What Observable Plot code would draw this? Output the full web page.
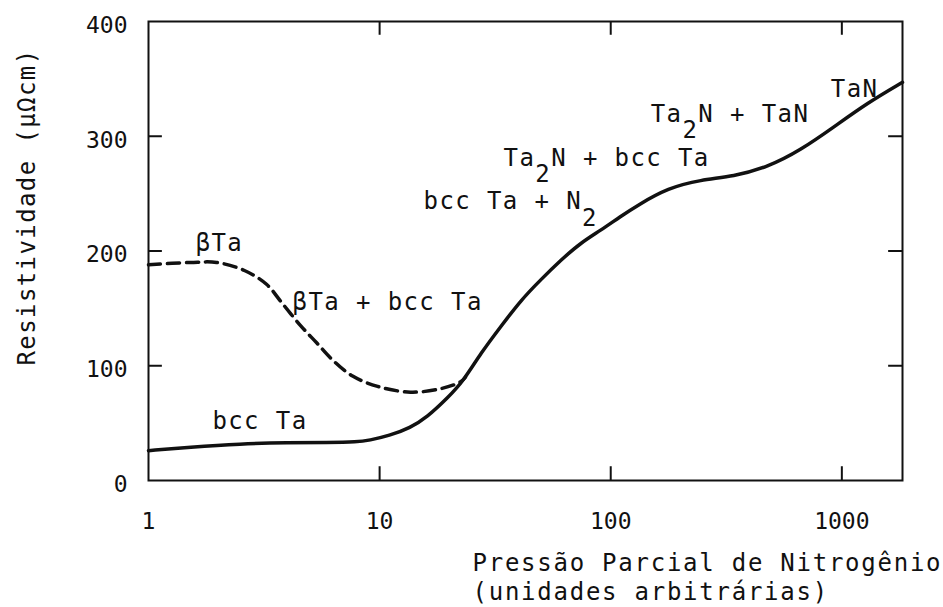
<!DOCTYPE html>
<html><head><meta charset="utf-8">
<script src="https://cdn.jsdelivr.net/npm/d3@7"></script>
<script src="https://cdn.jsdelivr.net/npm/@observablehq/plot@0.6"></script>
<style>
body{margin:0;background:#fff;}
#chart svg text{font-family:"DejaVu Sans Mono",monospace;}
g[aria-label="text"] text{letter-spacing:1.4px;}
g.xtitle text{letter-spacing:1.75px;}
</style></head><body><div id="chart"></div>
<script>
// bcc Ta (solid) curve
const bccX = [1, 1.5, 2.5, 4, 6, 8, 9, 11, 13.6, 16, 19.7, 23.1, 27.4, 33.4, 40.8, 49.8, 60.8, 74, 90.5, 110, 131, 177, 245, 340, 477, 665, 923, 1290, 1830];
const bccY = [26, 29, 32, 33, 33, 33.5, 35, 39, 46, 55, 72, 87, 111, 134, 157, 175, 192, 207, 218, 230, 240, 255, 262, 265, 273, 288, 308, 329, 347];
// beta Ta (dashed) curve
const betaX = [1, 1.52, 1.97, 2.6, 3.24, 3.77, 4.55, 5.34, 6.26, 7.64, 9.8, 13.6, 18.4, 22.4, 23.5];
const betaY = [188, 190, 190, 183, 171, 155, 135, 120, 105, 91, 82, 77, 80, 86, 90];
// axes
const xTicks = [1, 10, 100, 1000];
const yTicks = [0, 100, 200, 300, 400];
const xInnerTicks = [10, 100, 1000];
const yInnerTicks = [100, 200, 300];
const xDomain = [1, 1830];
const yDomain = [0, 400];
// phase labels
const labelText = ["βTa", "βTa + bcc Ta", "bcc Ta", "bcc Ta + N_2", "Ta_2N + bcc Ta", "Ta_2N + TaN", "TaN"];
const labelX = [1.6, 4.2, 1.89, 15.5, 34.4, 149, 896];
const labelY = [207, 155, 52, 243, 281, 319, 341];
const yTitle = "Resistividade (μΩcm)";
const xTitle = "Pressão Parcial de Nitrogênio\n(unidades arbitrárias)";

const bcc = bccX.map((x, i) => ({x, y: bccY[i]}));
const beta = betaX.map((x, i) => ({x, y: betaY[i]}));
const labels = labelText.map((t, i) => ({t, x: labelX[i], y: labelY[i]}));

const ink = "#111";
const xTickLen = 10 ** 0.06;

const chart = Plot.plot({
  width: 943, height: 607,
  marginLeft: 148, marginRight: 41, marginTop: 21, marginBottom: 127,
  style: {fontFamily: "DejaVu Sans Mono", fontSize: "23px", color: ink, background: "#fff"},
  x: {type: "log", domain: xDomain},
  y: {domain: yDomain},
  marks: [
    Plot.frame({stroke: ink, strokeWidth: 2}),
    Plot.ruleX(xInnerTicks, {y1: 0, y2: 12, stroke: ink, strokeWidth: 2}),
    Plot.ruleX(xInnerTicks, {y1: 400, y2: 388, stroke: ink, strokeWidth: 2}),
    Plot.ruleY(yInnerTicks, {x1: xDomain[0], x2: xDomain[0] * xTickLen, stroke: ink, strokeWidth: 2}),
    Plot.ruleY(yInnerTicks, {x1: xDomain[1] / xTickLen, x2: xDomain[1], stroke: ink, strokeWidth: 2}),
    Plot.axisX({ticks: xTicks, tickFormat: d => String(d), tickSize: 0, tickPadding: 32, label: null, fontSize: 23}),
    Plot.axisY({ticks: yTicks, tickFormat: d => String(d), tickSize: 0, tickPadding: 21, dy: 4, label: null, fontSize: 23}),
    Plot.line(beta, {x: "x", y: "y", curve: "catmull-rom", stroke: ink, strokeWidth: 3.5, strokeDasharray: "12,7"}),
    Plot.line(bcc, {x: "x", y: "y", curve: "basis", stroke: ink, strokeWidth: 3.5}),
    Plot.text(labels, {x: "x", y: "y", text: "t", textAnchor: "start", fontSize: 24, fill: ink}),
    Plot.text([yTitle], {frameAnchor: "left", textAnchor: "middle", rotate: -90, dx: -121, dy: -44, fontSize: 24, fill: ink}),
    Plot.text([xTitle], {frameAnchor: "bottom-left", dx: 324, dy: 71, textAnchor: "start", lineAnchor: "top", lineHeight: 1.17, fontSize: 24, fill: ink, className: "xtitle"})
  ]
});

// render "_2" as a lowered full-size 2
d3.select(chart).selectAll("text").each(function() {
  const el = this;
  if (el.querySelector("tspan")) return;
  const s = el.textContent;
  const k = s.indexOf("_2");
  if (k < 0) return;
  const before = s.slice(0, k), after = s.slice(k + 2);
  el.textContent = "";
  const ns = "http://www.w3.org/2000/svg";
  const t1 = document.createElementNS(ns, "tspan"); t1.textContent = before; el.appendChild(t1);
  const t2 = document.createElementNS(ns, "tspan"); t2.textContent = "2"; t2.setAttribute("dy", "0.68em"); el.appendChild(t2);
  if (after) { const t3 = document.createElementNS(ns, "tspan"); t3.textContent = after; t3.setAttribute("dy", "-0.68em"); el.appendChild(t3); }
});

document.getElementById("chart").appendChild(chart);
</script></body></html>
